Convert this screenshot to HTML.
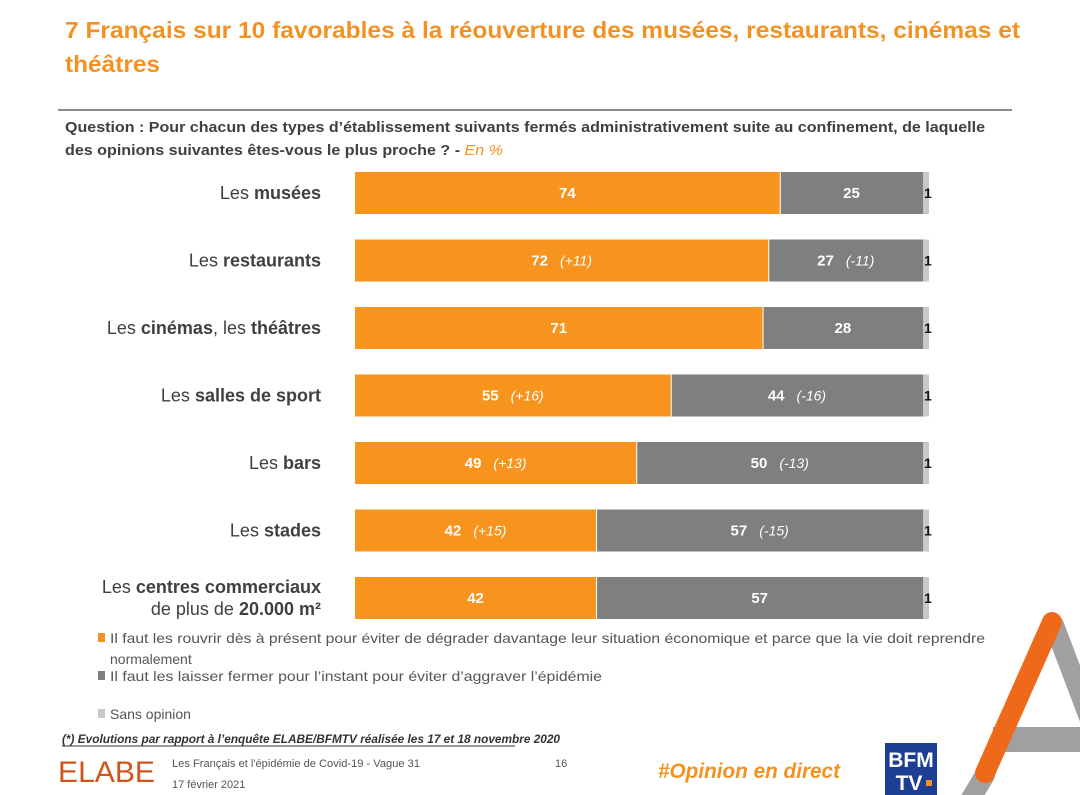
<!DOCTYPE html>
<html><head><meta charset="utf-8"><style>
html,body{margin:0;padding:0;background:#fff;}
svg{display:block;font-family:"Liberation Sans",sans-serif;}
</style></head><body>
<svg width="1080" height="795" viewBox="0 0 1080 795">
<g fill="#F39223" font-weight="bold" font-size="23">
<text x="65" y="38" textLength="955" lengthAdjust="spacingAndGlyphs">7 Français sur 10 favorables à la réouverture des musées, restaurants, cinémas et</text>
<text x="65" y="72" textLength="95" lengthAdjust="spacingAndGlyphs">théâtres</text>
</g>
<line x1="58" y1="110" x2="1012" y2="110" stroke="#8a8a8a" stroke-width="2"/>
<g fill="#404040" font-weight="bold" font-size="15">
<text x="65" y="132" textLength="920" lengthAdjust="spacingAndGlyphs">Question : Pour chacun des types d’établissement suivants fermés administrativement suite au confinement, de laquelle</text>
<text x="65" y="155" textLength="438" lengthAdjust="spacingAndGlyphs">des opinions suivantes êtes-vous le plus proche ? - <tspan fill="#F39223" font-style="italic" font-weight="normal">En %</tspan></text>
</g>
<g id="bars"></g>
<g id="labels" font-size="18" fill="#404040" text-anchor="end"></g>
<g font-size="14" fill="#555">
<rect x="98" y="633" width="7" height="9" fill="#F39223"/>
<text x="110" y="643" textLength="875" lengthAdjust="spacingAndGlyphs">Il faut les rouvrir dès à présent pour éviter de dégrader davantage leur situation économique et parce que la vie doit reprendre</text>
<text x="110" y="664">normalement</text>
<rect x="98" y="671" width="7" height="9" fill="#7f7f7f"/>
<text x="110" y="681" textLength="492" lengthAdjust="spacingAndGlyphs">Il faut les laisser fermer pour l’instant pour éviter d’aggraver l’épidémie</text>
<rect x="98" y="709" width="7" height="9" fill="#c8c8c8"/>
<text x="110" y="719">Sans opinion</text>
</g>
<text x="62" y="743" font-size="11.5" font-style="italic" font-weight="bold" fill="#333" textLength="498" lengthAdjust="spacingAndGlyphs">(*) Evolutions par rapport à l’enquête ELABE/BFMTV réalisée les 17 et 18 novembre 2020</text>
<line x1="62" y1="746" x2="515" y2="746" stroke="#333" stroke-width="1"/>
<g>
<text x="58" y="782" font-size="30" fill="#d2541a" textLength="97" lengthAdjust="spacingAndGlyphs">ELABE</text>
<text x="172" y="767" font-size="11" fill="#555" textLength="248" lengthAdjust="spacingAndGlyphs">Les Français et l'épidémie de Covid-19 - Vague 31</text>
<text x="172" y="788" font-size="11" fill="#555">17 février 2021</text>
<text x="555" y="767" font-size="11" fill="#555">16</text>
<text x="658" y="778" font-size="21" font-weight="bold" font-style="italic" fill="#F39223" textLength="182" lengthAdjust="spacingAndGlyphs">#Opinion en direct</text>
<g>
<rect x="885" y="743" width="52" height="52" fill="#1d3f93"/>
<text x="911" y="767" font-size="21" font-weight="bold" fill="#fff" text-anchor="middle">BFM</text>
<text x="909" y="790" font-size="21" font-weight="bold" fill="#fff" text-anchor="middle">TV</text>
<rect x="926" y="780" width="6" height="6" fill="#F39223"/>
</g>
</g>
<g stroke-linecap="round">
<line x1="1054" y1="625" x2="1090" y2="720" stroke="#a0a0a0" stroke-width="20"/>
<line x1="985" y1="775" x2="970" y2="800" stroke="#a0a0a0" stroke-width="20"/>
<rect x="993" y="727" width="90" height="25" fill="#a0a0a0"/>
<line x1="1052" y1="622" x2="985" y2="773" stroke="#ee6a1a" stroke-width="20"/>
</g>
<script>
const categories=["Les |musées","Les |restaurants","Les |cinémas|, les |théâtres","Les |salles de sport","Les |bars","Les |stades","Les |centres commerciaux||de plus de |20.000 m²"];
const reopen=[74,72,71,55,49,42,42];
const closed=[25,27,28,44,50,57,57];
const noOpinion=[1,1,1,1,1,1,1];
const reopenEvol=["","(+11)","","(+16)","(+13)","(+15)",""];
const closedEvol=["","(-11)","","(-16)","(-13)","(-15)",""];
const NS="http://www.w3.org/2000/svg";
const x0=355, kx=5.74, y0=193, dy=67.5, bh=42;
function xs(v){return x0+v*kx;}
function yc(i){return y0+i*dy;}
const gb=document.getElementById('bars'), gl=document.getElementById('labels');
function mk(tag,attrs,parent){const e=document.createElementNS(NS,tag);for(const k in attrs)e.setAttribute(k,attrs[k]);parent.appendChild(e);return e;}
function label(cx,cy,val,evol,name){
  const t=mk('text',{x:cx,y:cy+5,'font-size':15,'font-weight':'bold',fill:'#fff','text-anchor':'middle'},gb);
  
  
  t.textContent=val;
  if(evol){const s=mk('tspan',{'font-weight':'normal','font-style':'italic','font-size':14,dx:12},t);s.textContent=evol;t.setAttribute('x',cx+18);}
}
categories.forEach((c,i)=>{
  const y=yc(i)-bh/2;
  const r1=mk('rect',{x:xs(0),y:y,width:xs(reopen[i])-xs(0),height:bh,fill:'#F7941D'},gb);
  
  
  const r2=mk('rect',{x:xs(reopen[i])+1,y:y,width:xs(reopen[i]+closed[i])-xs(reopen[i])-1,height:bh,fill:'#7f7f7f'},gb);
  
  
  const r3=mk('rect',{x:xs(reopen[i]+closed[i]),y:y,width:xs(reopen[i]+closed[i]+noOpinion[i])-xs(reopen[i]+closed[i]),height:bh,fill:'#c8c8c8'},gb);
  
  
  label((xs(0)+xs(reopen[i]))/2-(reopenEvol[i]?18:0),yc(i),reopen[i],reopenEvol[i],'value-reopen');
  label((xs(reopen[i])+xs(reopen[i]+closed[i]))/2-(closedEvol[i]?18:0),yc(i),closed[i],closedEvol[i],'value-closed');
  const n=mk('text',{x:xs(100)-5,y:yc(i)+5,'font-size':14,'font-weight':'bold',fill:'#111'},gb);
  
  
  n.textContent=noOpinion[i];
  const lines=c.split('||');
  lines.forEach((ln,j)=>{
    const ty=yc(i)+6+(lines.length>1?(j-0.5)*22:0);
    const t=mk('text',{x:321,y:ty},gl);
    
    
    ln.split('|').forEach((p,k)=>{const s=mk('tspan',{'font-weight':k%2?'bold':'normal'},t);s.textContent=p;});
  });
});
</script>
</svg>
</body></html>
